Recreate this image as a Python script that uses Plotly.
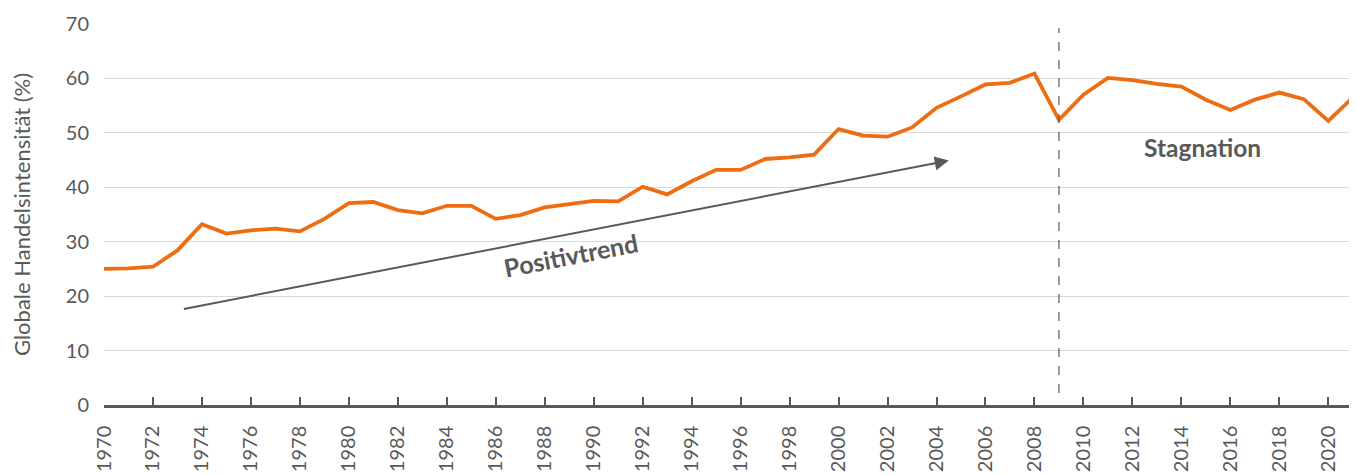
import plotly.graph_objects as go

years = list(range(1970, 2022))
intensity = [25.0, 25.1, 25.4, 28.4, 33.2, 31.5, 32.1, 32.4, 31.9, 34.2,
             37.1, 37.3, 35.8, 35.2, 36.6, 36.6, 34.2, 34.9, 36.3, 36.9,
             37.5, 37.4, 40.1, 38.7, 41.1, 43.2, 43.2, 45.2, 45.5, 46.0,
             50.7, 49.5, 49.3, 51.0, 54.6, 56.7, 58.9, 59.2, 60.9, 52.4,
             57.0, 60.1, 59.7, 59.0, 58.5, 56.1, 54.2, 56.1, 57.4, 56.2,
             52.2, 56.5]
tick_years = list(range(1970, 2022, 2))
y_ticks = [0, 10, 20, 30, 40, 50, 60, 70]

trend_start = (1973.2, 17.6)
trend_end = (2004.5, 44.9)
break_year = 2009

GRAY = "#595959"
ORANGE = "#EE6D12"
FONT = "Lato"

fig = go.Figure()
fig.add_trace(go.Scatter(x=years, y=intensity, mode="lines",
                         line=dict(color=ORANGE, width=3.8),
                         showlegend=False, hoverinfo="x+y"))

fig.add_shape(type="line", x0=break_year, x1=break_year, y0=2.2, y1=69.2,
              xref="x", yref="y", line=dict(color=GRAY, width=1.2, dash="dash"))

fig.add_annotation(x=trend_end[0], y=trend_end[1], ax=trend_start[0], ay=trend_start[1],
                   xref="x", yref="y", axref="x", ayref="y", text="",
                   showarrow=True, arrowhead=2, arrowsize=1.4, arrowwidth=2,
                   arrowcolor=GRAY)
fig.add_annotation(x=1989.06, y=27.5, xref="x", yref="y", text="<b>Positivtrend</b>",
                   showarrow=False, textangle=-11,
                   font=dict(family=FONT, size=25, color=GRAY))
fig.add_annotation(x=2014.88, y=47.3, xref="x", yref="y", text="<b>Stagnation</b>",
                   showarrow=False, font=dict(family=FONT, size=24.5, color=GRAY))

# page body has an 8px margin, so the figure is shrunk by 8px in each direction
fig.update_layout(
    width=1349, height=467,
    margin=dict(l=96, r=3, t=13, b=60),
    plot_bgcolor="white", paper_bgcolor="white",
    font=dict(family=FONT, color=GRAY, size=20),
    xaxis=dict(range=[1970, 2021.05], tickvals=tick_years,
               ticktext=[str(y) for y in tick_years], tickangle=-90,
               showgrid=False, zeroline=False, showline=True,
               linecolor=GRAY, linewidth=2.5, ticks="inside", ticklen=8,
               tickwidth=2, tickcolor=GRAY, ticklabelstandoff=10,
               tickfont=dict(family=FONT, size=20, color=GRAY)),
    yaxis=dict(range=[0, 70], tickvals=y_ticks, showgrid=True,
               gridcolor="#D9D9D9", gridwidth=1.2, zeroline=False,
               showline=False, ticks="", ticklabelstandoff=14,
               tickfont=dict(family=FONT, size=20, color=GRAY),
               title=dict(text="Globale Handelsintensität (%)", standoff=30,
                          font=dict(family=FONT, size=22, color=GRAY))),
)

fig.write_html("out.html")
